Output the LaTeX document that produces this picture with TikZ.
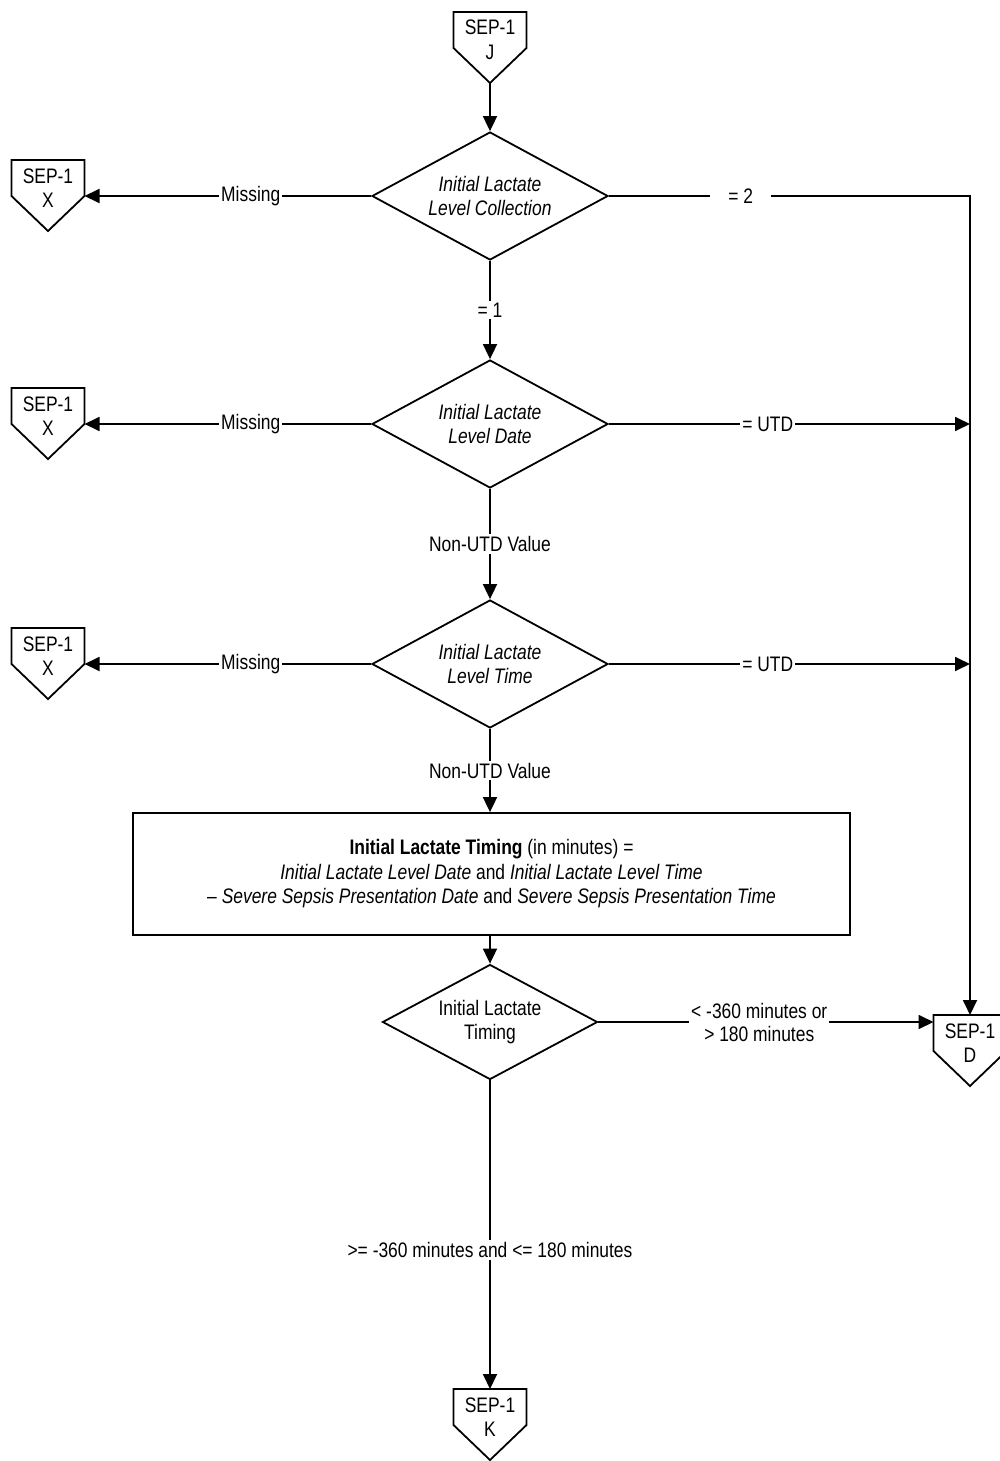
\documentclass[tikz,border=0pt]{standalone}
\usepackage{fontspec}
\setmainfont{Liberation Sans}[FakeStretch=0.83]
\usetikzlibrary{shapes.geometric,arrows.meta,calc}
\newcommand\offpage[1]{%
  \draw (#1.north west) -- (#1.north east) -- ([yshift=-36pt]#1.north east)
    -- ([yshift=-71pt]#1.north) -- ([yshift=-36pt]#1.north west) -- cycle;
  \coordinate (#1-tip) at ([yshift=-71pt]#1.north);
  \coordinate (#1-r) at ([yshift=-36pt]#1.north east);}
\begin{document}
\begin{tikzpicture}[x=1pt,y=-1pt,line width=1.8pt,
  every node/.style={font=\fontsize{21}{24.5}\selectfont},
  dia/.style={diamond, draw, aspect=1.84, inner sep=0pt, minimum width=236pt, minimum height=128pt, align=center},
  dia4/.style={diamond, draw, aspect=1.86, inner sep=0pt, minimum width=215pt, minimum height=115pt, align=center},
  procbox/.style={rectangle, draw, minimum width=717pt, minimum height=122pt, align=center},
  conn/.style={rectangle, minimum width=73pt, minimum height=56pt, inner sep=0pt, outer sep=0pt, align=center},
  lbl/.style={fill=white, inner sep=2pt, align=center},
  arr/.style={-{Triangle[length=15pt,width=14pt]}}]
\useasboundingbox (0,0) rectangle (999,1461);

% off-page connectors
\node[conn] (J) at (490,40) {SEP-1\\J};
\node[conn] (X1) at (48,188) {SEP-1\\X};
\node[conn] (X2) at (48,416) {SEP-1\\X};
\node[conn] (X3) at (48,656) {SEP-1\\X};
\node[conn] (D) at (970,1043) {SEP-1\\D};
\node[conn] (K) at (490,1417) {SEP-1\\K};
\offpage{J}\offpage{X1}\offpage{X2}\offpage{X3}\offpage{D}\offpage{K}

% decisions
\node[dia] (d1) at (490,196) {\itshape Initial Lactate\\\itshape Level Collection};
\node[dia] (d2) at (490,424) {\itshape Initial Lactate\\\itshape Level Date};
\node[dia] (d3) at (490,664) {\itshape Initial Lactate\\\itshape Level Time};
\node[procbox] (calc) at (491.5,874) {\textbf{Initial Lactate Timing} (in minutes) =\\
  \textit{Initial Lactate Level Date} and \textit{Initial Lactate Level Time}\\
  -- \textit{Severe Sepsis Presentation Date} and \textit{Severe Sepsis Presentation Time}};
\node[dia4] (d4) at (490,1022) {Initial Lactate\\Timing};

% connectors
\draw[arr] (J-tip) -- (d1.north);
\draw[arr] (d1.west) -- node[lbl,pos=0.42]{Missing} (X1-r);
\draw[arr] (d1.east) -- node[lbl,pos=0.365,inner xsep=18pt]{= 2} (D.north |- d1.east) -- (D.north);
\draw[arr] (d1.south) -- node[lbl,pos=0.5]{= 1} (d2.north);

\draw[arr] (d2.west) -- node[lbl,pos=0.42]{Missing} (X2-r);
\draw[arr] (d2.east) -- node[lbl,pos=0.44]{= UTD} (D.north |- d2.east);
\draw[arr] (d2.south) -- node[lbl,pos=0.5]{Non-UTD Value} (d3.north);

\draw[arr] (d3.west) -- node[lbl,pos=0.42]{Missing} (X3-r);
\draw[arr] (d3.east) -- node[lbl,pos=0.44]{= UTD} (D.north |- d3.east);
\draw[arr] (d3.south) -- node[lbl,pos=0.5]{Non-UTD Value} (d3.south |- calc.north);

\draw[arr] (d4.north |- calc.south) -- (d4.north);
\draw[arr] (d4.east) -- node[lbl,pos=0.48,font=\fontsize{21}{23}\selectfont]{< -360 minutes or\\> 180 minutes} (D.west |- d4.east);
\draw[arr] (d4.south) -- node[lbl,pos=0.55]{>= -360 minutes and <= 180 minutes} (K.north);
\end{tikzpicture}
\end{document}
